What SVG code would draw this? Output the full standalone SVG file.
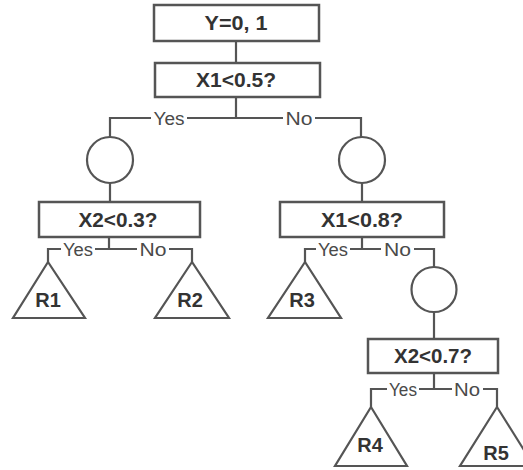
<svg xmlns="http://www.w3.org/2000/svg" width="523" height="470" viewBox="0 0 523 470">
<style>
.box{fill:#fff;stroke:#555;stroke-width:2.5}
.shape{fill:#fff;stroke:#555;stroke-width:2.2}
.ln{fill:none;stroke:#555;stroke-width:2.2}
.t{font-family:"Liberation Sans",Arial,sans-serif;font-weight:bold;font-size:20px;fill:#333;text-anchor:middle}
.r{font-family:"Liberation Sans",Arial,sans-serif;font-weight:bold;font-size:20px;fill:#333;text-anchor:middle}
.lb{font-family:"Liberation Sans",Arial,sans-serif;font-size:18px;fill:#4a4a4a;text-anchor:middle}
</style>
<rect width="523" height="470" fill="#fff"/>
<g id="connectors">
<path class="ln" d="M236 41V63"/>
<path class="ln" d="M236 97V118"/>
<path class="ln" d="M110 137V118H151M187 118H283M315 118H361V137"/>
<path class="ln" d="M110 183V202M362 183V202"/>
<path class="ln" d="M109 237V249"/>
<path class="ln" d="M48 262V249H61M95 249H137M169 249H192V262"/>
<path class="ln" d="M362 237V249"/>
<path class="ln" d="M305 262V249H316M350 249H381M414 249H434V267"/>
<path class="ln" d="M434 312V339"/>
<path class="ln" d="M434 373V389"/>
<path class="ln" d="M371 407V389H387M419 389H452M483 389H497V407"/>
<text class="lb" x="169" y="124.5" textLength="31" lengthAdjust="spacingAndGlyphs">Yes</text>
<text class="lb" x="299" y="124.5" textLength="27" lengthAdjust="spacingAndGlyphs">No</text>
<text class="lb" x="78" y="255.5" textLength="30" lengthAdjust="spacingAndGlyphs">Yes</text>
<text class="lb" x="153" y="255.5" textLength="27" lengthAdjust="spacingAndGlyphs">No</text>
<text class="lb" x="333" y="255.5" textLength="30" lengthAdjust="spacingAndGlyphs">Yes</text>
<text class="lb" x="397.5" y="255.5" textLength="27" lengthAdjust="spacingAndGlyphs">No</text>
<text class="lb" x="403" y="395.5" textLength="28" lengthAdjust="spacingAndGlyphs">Yes</text>
<text class="lb" x="467" y="395.5" textLength="26" lengthAdjust="spacingAndGlyphs">No</text>
</g>
<g id="root"><rect class="box" x="154" y="5" width="165" height="36"/><text class="t" x="236" y="30" textLength="63" lengthAdjust="spacingAndGlyphs">Y=0, 1</text></g>
<g id="split1"><rect class="box" x="155" y="63" width="165" height="34"/><text class="t" x="236" y="87" textLength="80" lengthAdjust="spacingAndGlyphs">X1&lt;0.5?</text></g>
<g id="chanceL"><circle class="shape" cx="110" cy="160" r="23"/></g>
<g id="chanceR"><circle class="shape" cx="362" cy="160" r="23"/></g>
<g id="split2"><rect class="box" x="39" y="202" width="161" height="35"/><text class="t" x="118" y="226.5" textLength="79" lengthAdjust="spacingAndGlyphs">X2&lt;0.3?</text></g>
<g id="split3"><rect class="box" x="280" y="202" width="164" height="35"/><text class="t" x="362" y="226.5" textLength="82" lengthAdjust="spacingAndGlyphs">X1&lt;0.8?</text></g>
<g id="R1"><polygon class="shape" points="48,262 13,318 85,318"/><text class="r" x="48" y="307">R1</text></g>
<g id="R2"><polygon class="shape" points="192,262 155,318 229,318"/><text class="r" x="190" y="307">R2</text></g>
<g id="R3"><polygon class="shape" points="305,262 268,318 341,318"/><text class="r" x="302" y="307">R3</text></g>
<g id="chance3"><circle class="shape" cx="434" cy="289.5" r="22.5"/></g>
<g id="split4"><rect class="box" x="368" y="339" width="130" height="34"/><text class="t" x="433" y="363" textLength="78" lengthAdjust="spacingAndGlyphs">X2&lt;0.7?</text></g>
<g id="R4"><polygon class="shape" points="371,407 335,466 407,466"/><text class="r" x="370" y="452">R4</text></g>
<g id="R5"><polygon class="shape" points="497,407 460,466 534,466"/><text class="r" x="496" y="460">R5</text></g>
</svg>
